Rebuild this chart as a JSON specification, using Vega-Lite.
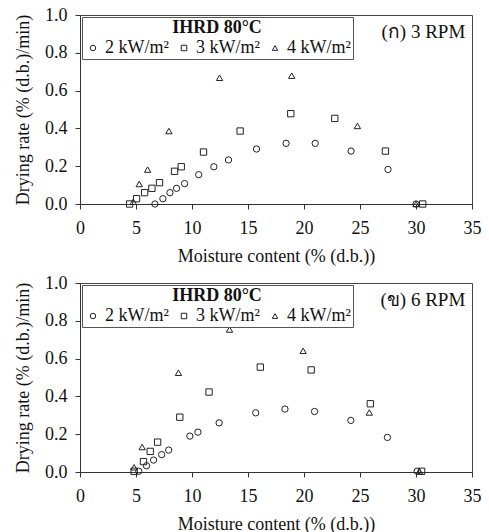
{
  "$schema": "https://vega.github.io/schema/vega-lite/v6.json",
  "padding": {"left": 14, "top": 5, "right": 2, "bottom": 2},
  "background": "white",
  "config": {
    "font": "Liberation Serif",
    "view": {"stroke": "#444", "strokeWidth": 1},
    "axis": {"grid": false, "domainColor": "#333", "tickColor": "#333", "labelFont": "Liberation Serif", "labelFontSize": 18, "labelColor": "#111", "titleFont": "Liberation Serif", "titleFontSize": 18, "titleFontWeight": "normal", "titleColor": "#111", "tickSize": 5, "labelOverlap": false, "labelFlush": false},
    "legend": {"titleFont": "Liberation Serif", "labelFont": "Liberation Serif", "titleFontSize": 18, "labelFontSize": 18, "titleFontWeight": "bold", "titleColor": "#111", "labelColor": "#111", "titleAnchor": "middle", "strokeColor": "#555", "fillColor": "white", "padding": 2, "columnPadding": 6, "symbolSize": 30, "symbolStrokeColor": "#222", "symbolStrokeWidth": 1, "titlePadding": 2, "offset": 2, "labelOffset": 3},
    "concat": {"spacing": 7}
  },
  "datasets": {
    "d": [
      {"rpm": "3", "series": "2 kW/m²", "mc": 6.69, "rate": 0.0},
      {"rpm": "3", "series": "2 kW/m²", "mc": 7.4, "rate": 0.028},
      {"rpm": "3", "series": "2 kW/m²", "mc": 8.03, "rate": 0.06},
      {"rpm": "3", "series": "2 kW/m²", "mc": 8.62, "rate": 0.083},
      {"rpm": "3", "series": "2 kW/m²", "mc": 9.34, "rate": 0.108},
      {"rpm": "3", "series": "2 kW/m²", "mc": 10.6, "rate": 0.155},
      {"rpm": "3", "series": "2 kW/m²", "mc": 11.95, "rate": 0.197},
      {"rpm": "3", "series": "2 kW/m²", "mc": 13.26, "rate": 0.233},
      {"rpm": "3", "series": "2 kW/m²", "mc": 15.76, "rate": 0.291},
      {"rpm": "3", "series": "2 kW/m²", "mc": 18.4, "rate": 0.321},
      {"rpm": "3", "series": "2 kW/m²", "mc": 21.0, "rate": 0.321},
      {"rpm": "3", "series": "2 kW/m²", "mc": 24.2, "rate": 0.28},
      {"rpm": "3", "series": "2 kW/m²", "mc": 27.5, "rate": 0.183},
      {"rpm": "3", "series": "2 kW/m²", "mc": 30.0, "rate": 0.0},
      {"rpm": "3", "series": "3 kW/m²", "mc": 4.43, "rate": 0.0},
      {"rpm": "3", "series": "3 kW/m²", "mc": 5.05, "rate": 0.028},
      {"rpm": "3", "series": "3 kW/m²", "mc": 5.77, "rate": 0.06},
      {"rpm": "3", "series": "3 kW/m²", "mc": 6.42, "rate": 0.083},
      {"rpm": "3", "series": "3 kW/m²", "mc": 7.1, "rate": 0.113},
      {"rpm": "3", "series": "3 kW/m²", "mc": 8.44, "rate": 0.173},
      {"rpm": "3", "series": "3 kW/m²", "mc": 9.04, "rate": 0.197},
      {"rpm": "3", "series": "3 kW/m²", "mc": 11.03, "rate": 0.275},
      {"rpm": "3", "series": "3 kW/m²", "mc": 14.3, "rate": 0.386},
      {"rpm": "3", "series": "3 kW/m²", "mc": 18.82, "rate": 0.478},
      {"rpm": "3", "series": "3 kW/m²", "mc": 22.75, "rate": 0.453},
      {"rpm": "3", "series": "3 kW/m²", "mc": 27.27, "rate": 0.28},
      {"rpm": "3", "series": "3 kW/m²", "mc": 30.6, "rate": 0.0},
      {"rpm": "3", "series": "4 kW/m²", "mc": 4.76, "rate": 0.012},
      {"rpm": "3", "series": "4 kW/m²", "mc": 5.29, "rate": 0.106},
      {"rpm": "3", "series": "4 kW/m²", "mc": 6.04, "rate": 0.182},
      {"rpm": "3", "series": "4 kW/m²", "mc": 7.94, "rate": 0.386},
      {"rpm": "3", "series": "4 kW/m²", "mc": 12.46, "rate": 0.668},
      {"rpm": "3", "series": "4 kW/m²", "mc": 18.9, "rate": 0.679},
      {"rpm": "3", "series": "4 kW/m²", "mc": 24.77, "rate": 0.413},
      {"rpm": "3", "series": "4 kW/m²", "mc": 30.0, "rate": 0.0},
      {"rpm": "6", "series": "2 kW/m²", "mc": 5.25, "rate": 0.004},
      {"rpm": "6", "series": "2 kW/m²", "mc": 5.94, "rate": 0.033},
      {"rpm": "6", "series": "2 kW/m²", "mc": 6.57, "rate": 0.063},
      {"rpm": "6", "series": "2 kW/m²", "mc": 7.29, "rate": 0.092},
      {"rpm": "6", "series": "2 kW/m²", "mc": 7.92, "rate": 0.116},
      {"rpm": "6", "series": "2 kW/m²", "mc": 9.81, "rate": 0.19},
      {"rpm": "6", "series": "2 kW/m²", "mc": 10.53, "rate": 0.211},
      {"rpm": "6", "series": "2 kW/m²", "mc": 12.42, "rate": 0.26},
      {"rpm": "6", "series": "2 kW/m²", "mc": 15.69, "rate": 0.313},
      {"rpm": "6", "series": "2 kW/m²", "mc": 18.3, "rate": 0.333},
      {"rpm": "6", "series": "2 kW/m²", "mc": 20.94, "rate": 0.32},
      {"rpm": "6", "series": "2 kW/m²", "mc": 24.18, "rate": 0.273},
      {"rpm": "6", "series": "2 kW/m²", "mc": 27.45, "rate": 0.183},
      {"rpm": "6", "series": "2 kW/m²", "mc": 30.1, "rate": 0.004},
      {"rpm": "6", "series": "3 kW/m²", "mc": 4.83, "rate": 0.004},
      {"rpm": "6", "series": "3 kW/m²", "mc": 5.67, "rate": 0.055},
      {"rpm": "6", "series": "3 kW/m²", "mc": 6.27, "rate": 0.109},
      {"rpm": "6", "series": "3 kW/m²", "mc": 6.93, "rate": 0.158},
      {"rpm": "6", "series": "3 kW/m²", "mc": 8.91, "rate": 0.29},
      {"rpm": "6", "series": "3 kW/m²", "mc": 11.52, "rate": 0.423},
      {"rpm": "6", "series": "3 kW/m²", "mc": 16.1, "rate": 0.555},
      {"rpm": "6", "series": "3 kW/m²", "mc": 20.64, "rate": 0.54},
      {"rpm": "6", "series": "3 kW/m²", "mc": 25.92, "rate": 0.361},
      {"rpm": "6", "series": "3 kW/m²", "mc": 30.5, "rate": 0.004},
      {"rpm": "6", "series": "4 kW/m²", "mc": 4.83, "rate": 0.025},
      {"rpm": "6", "series": "4 kW/m²", "mc": 5.55, "rate": 0.132},
      {"rpm": "6", "series": "4 kW/m²", "mc": 8.79, "rate": 0.525},
      {"rpm": "6", "series": "4 kW/m²", "mc": 13.35, "rate": 0.754},
      {"rpm": "6", "series": "4 kW/m²", "mc": 19.92, "rate": 0.641},
      {"rpm": "6", "series": "4 kW/m²", "mc": 25.83, "rate": 0.315},
      {"rpm": "6", "series": "4 kW/m²", "mc": 30.3, "rate": 0.004}
    ]
  },
  "vconcat": [
    {
      "width": 392,
      "height": 189,
      "layer": [
        {
          "data": {"name": "d"},
          "transform": [{"filter": "datum.rpm == '3'"}],
          "mark": {"type": "point", "filled": false, "color": "#222", "strokeWidth": 1, "size": 40, "opacity": 1},
          "encoding": {
            "x": {"field": "mc", "type": "quantitative", "scale": {"domain": [0, 35], "nice": false}, "axis": {"values": [0, 5, 10, 15, 20, 25, 30, 35], "title": "Moisture content (% (d.b.))", "labelPadding": 10, "titlePadding": 10, "labelOverlap": false}},
            "y": {"field": "rate", "type": "quantitative", "scale": {"domain": [0, 1], "nice": false}, "axis": {"values": [0, 0.2, 0.4, 0.6, 0.8, 1.0], "format": ".1f", "title": "Drying rate (% (d.b.)/min)", "labelPadding": 8, "titlePadding": 12, "labelOverlap": false}},
            "shape": {"field": "series", "type": "nominal", "scale": {"domain": ["2 kW/m²", "3 kW/m²", "4 kW/m²"], "range": ["circle", "square", "triangle-up"]}, "legend": {"title": "IHRD 80°C", "orient": "top-left", "direction": "horizontal"}}
          }
        },
        {
          "data": {"values": [{"label": "(ก) 3 RPM"}]},
          "mark": {"type": "text", "align": "right", "baseline": "middle", "fontSize": 19, "font": "Liberation Serif", "color": "#111"},
          "encoding": {
            "x": {"datum": 34.4, "type": "quantitative", "axis": {"values": [0, 5, 10, 15, 20, 25, 30, 35], "title": "Moisture content (% (d.b.))", "labelPadding": 10, "titlePadding": 10, "labelOverlap": false}},
            "y": {"datum": 0.91, "type": "quantitative", "axis": {"values": [0, 0.2, 0.4, 0.6, 0.8, 1.0], "format": ".1f", "title": "Drying rate (% (d.b.)/min)", "labelPadding": 8, "titlePadding": 12, "labelOverlap": false}},
            "text": {"field": "label"}
          }
        }
      ]
    },
    {
      "width": 392,
      "height": 189,
      "layer": [
        {
          "data": {"name": "d"},
          "transform": [{"filter": "datum.rpm == '6'"}],
          "mark": {"type": "point", "filled": false, "color": "#222", "strokeWidth": 1, "size": 40, "opacity": 1},
          "encoding": {
            "x": {"field": "mc", "type": "quantitative", "scale": {"domain": [0, 35], "nice": false}, "axis": {"values": [0, 5, 10, 15, 20, 25, 30, 35], "title": "Moisture content (% (d.b.))", "labelPadding": 10, "titlePadding": 10, "labelOverlap": false}},
            "y": {"field": "rate", "type": "quantitative", "scale": {"domain": [0, 1], "nice": false}, "axis": {"values": [0, 0.2, 0.4, 0.6, 0.8, 1.0], "format": ".1f", "title": "Drying rate (% (d.b.)/min)", "labelPadding": 8, "titlePadding": 12, "labelOverlap": false}},
            "shape": {"field": "series", "type": "nominal", "scale": {"domain": ["2 kW/m²", "3 kW/m²", "4 kW/m²"], "range": ["circle", "square", "triangle-up"]}, "legend": {"title": "IHRD 80°C", "orient": "top-left", "direction": "horizontal"}}
          }
        },
        {
          "data": {"values": [{"label": "(ข) 6 RPM"}]},
          "mark": {"type": "text", "align": "right", "baseline": "middle", "fontSize": 19, "font": "Liberation Serif", "color": "#111"},
          "encoding": {
            "x": {"datum": 34.4, "type": "quantitative", "axis": {"values": [0, 5, 10, 15, 20, 25, 30, 35], "title": "Moisture content (% (d.b.))", "labelPadding": 10, "titlePadding": 10, "labelOverlap": false}},
            "y": {"datum": 0.91, "type": "quantitative", "axis": {"values": [0, 0.2, 0.4, 0.6, 0.8, 1.0], "format": ".1f", "title": "Drying rate (% (d.b.)/min)", "labelPadding": 8, "titlePadding": 12, "labelOverlap": false}},
            "text": {"field": "label"}
          }
        }
      ]
    }
  ],
  "resolve": {"legend": {"shape": "independent"}, "scale": {"shape": "independent"}}
}
